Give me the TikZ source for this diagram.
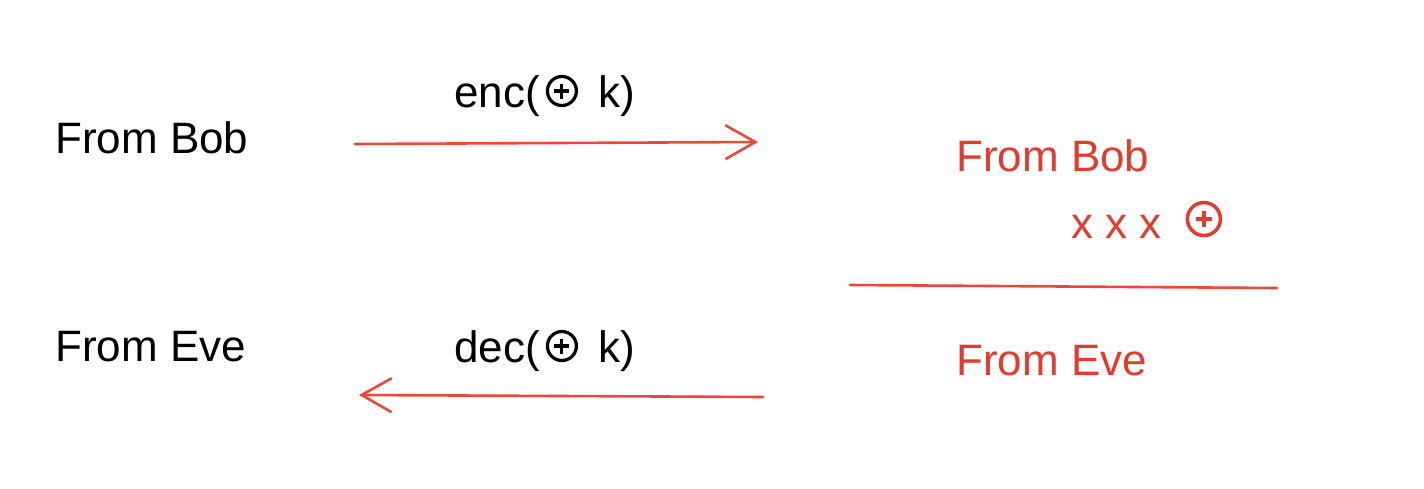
\documentclass[tikz,border=0pt]{standalone}
\usepackage{fontspec}
\setmainfont{Liberation Sans}
\usetikzlibrary{arrows.meta}
\definecolor{msgred}{RGB}{226,60,44}
\definecolor{linered}{RGB}{234,72,60}
\tikzset{
  label/.style={font=\fontsize{44}{50}\selectfont, inner sep=0pt, anchor=base west},
  redlabel/.style={label, text=msgred},
  flow/.style={draw=linered, line width=2.6pt, line cap=round,
    -{Straight Barb[length=30pt,width=34pt,line width=2.6pt]}},
  rule/.style={draw=linered, line width=2.6pt, line cap=round}
}
% circled plus drawn inline: #1 radius, #2 height of centre above baseline,
% #3 half arm, #4 stroke, #5 colour
\newcommand{\xorsym}[5]{\tikz[baseline=0pt]{%
  \draw[#5, line width=#4] (0pt,#2) circle[radius=#1];
  \draw[#5, line width=#4] (-#3,#2) -- (#3,#2) (0pt,#2) ++(0pt,-#3) -- ++(0pt,2*#3);}}
\begin{document}
\begin{tikzpicture}[x=1pt,y=-1pt]
  \useasboundingbox (0,0) rectangle (1424,488);
  % left column
  \node[label] (bob) at (55,153) {From Bob};
  \node[label] (eve) at (55,361) {From Eve};
  % messages over the arrows
  \node[label] (enc) at (454,107) {enc(\hspace{6pt}\xorsym{14.5pt}{16pt}{7.5pt}{3.2pt}{black}\hspace{20pt}k)};
  \node[label] (dec) at (454,362) {dec(\hspace{6pt}\xorsym{14.5pt}{16pt}{7.5pt}{3.2pt}{black}\hspace{20pt}k)};
  % right column
  \node[redlabel] (rbob) at (956,171) {From Bob};
  \node[redlabel] (rxxx) at (1071,238) {x x x\hspace{24pt}\xorsym{16.5pt}{19pt}{8pt}{3.5pt}{msgred}};
  \node[redlabel] (reve) at (956,375) {From Eve};
  % arrow end points
  \coordinate (a1) at (355,144);
  \coordinate (a2) at (758,142);
  \coordinate (b1) at (763,397);
  \coordinate (b2) at (359,395);
  \coordinate (r1) at (850,285);
  \coordinate (r2) at (1277,288);
  \draw[flow] (a1) -- (a2);
  \draw[flow] (b1) -- (b2);
  \draw[rule] (r1) -- (r2);
\end{tikzpicture}
\end{document}
